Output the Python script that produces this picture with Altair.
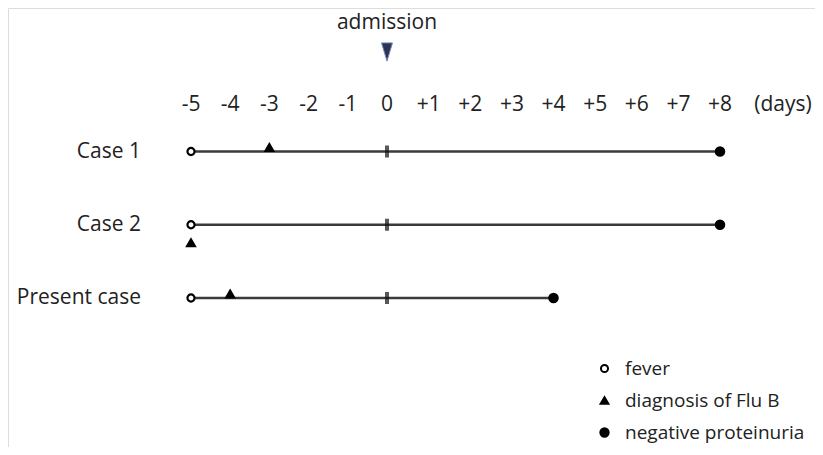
import altair as alt
import pandas as pd

# ---- data ----
cases = ["Case 1", "Case 2", "Present case"]
start_day = [-5, -5, -5]
end_day = [8, 8, 4]
fever_day = [-5, -5, -5]
flu_day = [-3, -5, -4]
neg_day = [8, 8, 4]
admission_day = 0
days = list(range(-5, 9))
day_labels = [str(d) if d <= 0 else f"+{d}" for d in days]
event_names = ["fever", "diagnosis of Flu B", "negative proteinuria"]

FONT = "Open Sans"
TXT = "#222222"
FS = 21

rows = pd.DataFrame({"case": cases, "start": start_day, "end": end_day,
                     "adm": [admission_day] * len(cases)})

ev = []
for c, f, fl, n in zip(cases, fever_day, flu_day, neg_day):
    ev.append({"case": c, "event": event_names[0], "day": f, "fever": f})
    ev.append({"case": c, "event": event_names[1], "day": fl, "fever": f})
    ev.append({"case": c, "event": event_names[2], "day": n, "fever": f})
events = pd.DataFrame(ev)

ticks = pd.DataFrame({"day": days, "label": day_labels})
adm = pd.DataFrame({"day": [admission_day], "label": ["admission"]})

xs = alt.Scale(domain=[-5, 0, 8], range=[183, 379, 712])
ys = alt.Scale(type="point", domain=cases, range=[143.5, 290], padding=0)

X = lambda f: alt.X(f, scale=xs, axis=None)
Y = alt.Y("case:N", scale=ys, axis=None)

lines = alt.Chart(rows).mark_rule(color="#3a3a3a", strokeWidth=2.5).encode(
    x=X("start:Q"), x2="end:Q", y=Y)

adm_ticks = alt.Chart(rows).mark_tick(color="#111111", thickness=4, size=12).encode(
    x=X("adm:Q"), y=Y)

pts = alt.Chart(events).transform_calculate(
    off="datum.event == 'diagnosis of Flu B' ? (datum.day == datum.fever ? 18 : -4) : 0"
).mark_point(filled=True, stroke="black", strokeWidth=2.2, opacity=1).encode(
    x=X("day:Q"), y=Y,
    yOffset=alt.YOffset("off:Q", scale=None),
    shape=alt.Shape("event:N", scale=alt.Scale(domain=event_names,
                    range=["circle", "triangle-up", "circle"]),
                    legend=alt.Legend(title=None, orient="none", legendX=587, legendY=351,
                                      labelFont=FONT, labelFontSize=19, labelColor=TXT,
                                      labelLimit=400, rowPadding=12, labelOffset=11,
                                      symbolStrokeColor="black", symbolStrokeWidth=2)),
    fill=alt.Fill("event:N", scale=alt.Scale(domain=event_names,
                  range=["white", "black", "black"]), legend=alt.Legend(title=None)),
    size=alt.Size("event:N", scale=alt.Scale(domain=event_names, range=[50, 70, 85]),
                  legend=alt.Legend(title=None)),
)

tick_labels = alt.Chart(ticks).mark_text(font=FONT, fontSize=FS, color=TXT, baseline="middle").encode(
    x=X("day:Q"), y=alt.value(97), text="label:N")

days_label = alt.Chart(adm).mark_text(font=FONT, fontSize=FS, color=TXT, baseline="middle").encode(
    x=alt.value(775), y=alt.value(97), text=alt.value("(days)"))

row_labels = alt.Chart(rows).mark_text(font=FONT, fontSize=FS, color=TXT, align="right",
                                       baseline="middle").encode(
    x=alt.value(133), y=Y, text="case:N")

adm_text = alt.Chart(adm).mark_text(font=FONT, fontSize=FS, color=TXT, baseline="middle").encode(
    x=X("day:Q"), y=alt.value(15), text="label:N")

adm_arrow = alt.Chart(adm).mark_point(
    shape="M-0.6,-1L0.6,-1L0,1Z", filled=True, fill="#2b3457", stroke="#7484b8",
    strokeWidth=1, opacity=1, size=330).encode(x=X("day:Q"), y=alt.value(44))

chart = alt.layer(lines, adm_ticks, pts, tick_labels, days_label, row_labels,
                  adm_text, adm_arrow).properties(
    width=807, height=439, autosize=alt.AutoSizeParams(type="none"), padding=0
).configure_view(stroke=None).configure(background="white")

chart.save("out.html", embed_options={"renderer": "svg", "actions": False})
